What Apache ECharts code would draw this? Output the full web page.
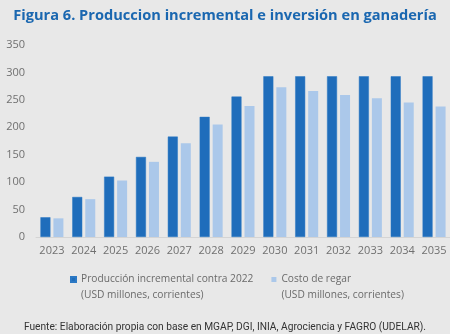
<!DOCTYPE html>
<html>
<head>
<meta charset="utf-8">
<script src="https://cdn.jsdelivr.net/npm/echarts@6/dist/echarts.min.js"></script>
<style>
html,body{margin:0;padding:0;background:#e8e8e8;}
#c{width:450px;height:334px;}
</style>
</head>
<body>
<div id="c"></div>
<script>
var years = ['2023','2024','2025','2026','2027','2028','2029','2030','2031','2032','2033','2034','2035'];
var produccion = [36, 73, 110, 146, 183, 219, 256, 293, 293, 293, 293, 293, 293];
var costo = [34, 69, 103, 137, 171, 205, 239, 273, 266, 259, 253, 245, 238];
var yTicks = [0, 50, 100, 150, 200, 250, 300, 350];
var nameProd = 'Producción incremental contra 2022';
var nameCosto = 'Costo de regar';
var unitLine = '(USD millones, corrientes)';
var titleText = 'Figura 6. Produccion incremental e inversión en ganadería';
var sourceText = 'Fuente: Elaboración propia con base en MGAP, DGI, INIA, Agrociencia y FAGRO (UDELAR).';

var chart = echarts.init(document.getElementById('c'), null, {renderer:'canvas'});
chart.setOption({
  backgroundColor: '#e8e8e8',
  animation: false,
  title: [{
    text: titleText,
    left: 'center', top: 3,
    textStyle: {fontFamily: 'Open Sans', fontWeight: 'bold', fontSize: 14.6, color: '#1a67b0'}
  }, {
    text: sourceText,
    left: 'center', top: 317,
    textStyle: {fontFamily: 'Roboto', fontWeight: 'normal', fontSize: 10.2, color: '#333333'}
  }],
  legend: {
    left: 65, top: 266,
    itemWidth: 5, itemHeight: 20, itemGap: 18,
    icon: 'path://M0,0H5V5H0Z M0,20L0.001,20',
    data: [nameProd, nameCosto],
    formatter: function (n) { return n + '\n' + unitLine; },
    textStyle: {fontFamily: 'Open Sans', fontSize: 10.2, color: '#6a6a6a', lineHeight: 16}
  },
  grid: {left: 36, top: 45, width: 416, height: 192, containLabel: false},
  xAxis: {
    type: 'category', data: years,
    axisLine: {lineStyle: {color: '#d4d4d4'}},
    axisTick: {show: false},
    axisLabel: {fontFamily: 'Open Sans', fontSize: 11, color: '#707070', margin: 8, interval: 0}
  },
  yAxis: {
    type: 'value', min: 0, max: 350, interval: 50,
    splitLine: {show: false},
    axisLine: {show: false}, axisTick: {show: false},
    axisLabel: {fontFamily: 'Open Sans', fontSize: 11, color: '#707070', margin: 11,
      customValues: yTicks}
  },
  series: [{
    name: nameProd, type: 'bar', data: produccion,
    barWidth: 10, barGap: '30%',
    itemStyle: {color: '#1f6dbb', borderColor: '#2b78c4', borderWidth: 0.5}
  }, {
    name: nameCosto, type: 'bar', data: costo,
    barWidth: 10,
    itemStyle: {color: '#abc8ea'}
  }]
});
</script>
</body>
</html>
